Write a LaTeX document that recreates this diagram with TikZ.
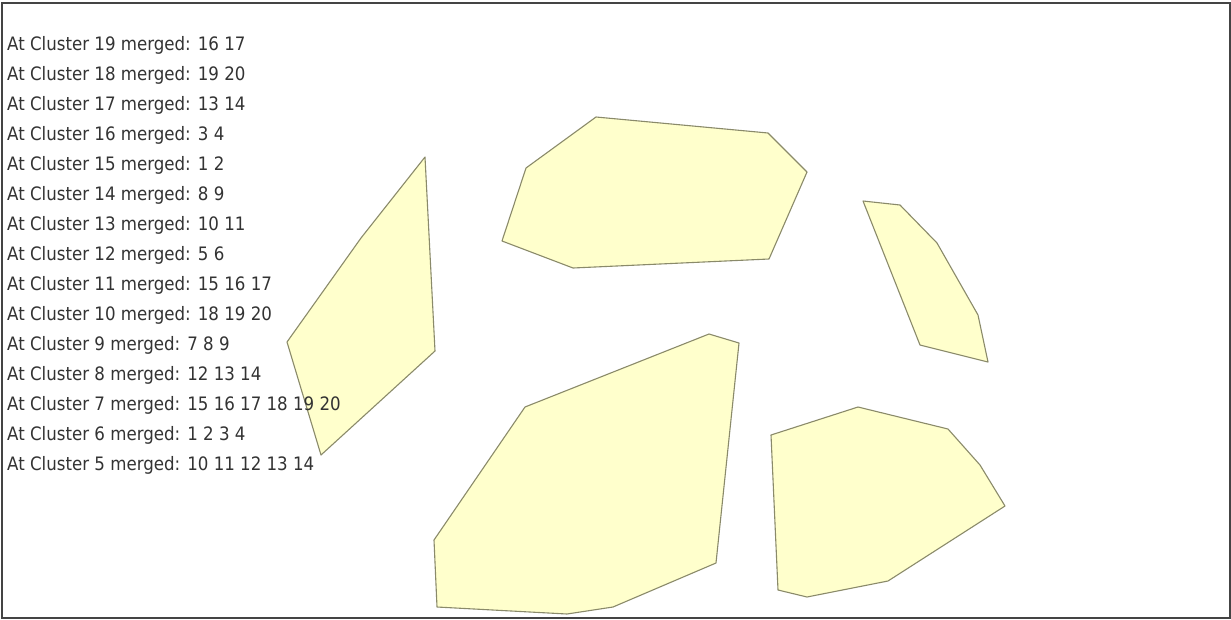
\documentclass[tikz,border=0pt]{standalone}
\usepackage{fontspec}
\setmainfont{DejaVu Sans Condensed}
\definecolor{polyfill}{HTML}{FFFFCC}
\definecolor{polyline}{HTML}{8A8A6A}
\definecolor{txt}{HTML}{333333}
\definecolor{frame}{HTML}{444444}
\begin{document}
\begin{tikzpicture}[x=1pt,y=-1pt,
  poly/.style={fill=polyfill,draw=polyline,line width=1.1pt,line join=round},
  lbl/.style={anchor=base west,inner sep=0pt,text=txt,font=\fontsize{18.5}{20}\selectfont}]
\useasboundingbox (0,0) rectangle (1231,619);
\fill[white] (0,0) rectangle (1231,619);
\draw[frame,line width=2pt] (1.5,3) rectangle (1229.5,617.5);
% polygons
\draw[poly] (425,157) -- (435,351) -- (321,455) -- (287,342) -- (361,238) -- cycle;
\draw[poly] (596,117) -- (768,133) -- (807,172) -- (769,259) -- (573,268) -- (502,241) -- (526,168) -- cycle;
\draw[poly] (863,201) -- (900,205) -- (937,243) -- (978,315) -- (988,362) -- (920,345) -- cycle;
\draw[poly] (709,334) -- (739,343) -- (716,563) -- (613,607) -- (567,614) -- (437,607) -- (434,540) -- (525,407) -- cycle;
\draw[poly] (858,407) -- (948,429) -- (980,465) -- (1005,506) -- (888,581) -- (807,597) -- (778,590) -- (771,435) -- cycle;
% text
\node[lbl] (l19) at (7,50) {At Cluster 19 merged: 16 17};
\node[lbl] (l18) at (7,80) {At Cluster 18 merged: 19 20};
\node[lbl] (l17) at (7,110) {At Cluster 17 merged: 13 14};
\node[lbl] (l16) at (7,140) {At Cluster 16 merged: 3 4};
\node[lbl] (l15) at (7,170) {At Cluster 15 merged: 1 2};
\node[lbl] (l14) at (7,200) {At Cluster 14 merged: 8 9};
\node[lbl] (l13) at (7,230) {At Cluster 13 merged: 10 11};
\node[lbl] (l12) at (7,260) {At Cluster 12 merged: 5 6};
\node[lbl] (l11) at (7,290) {At Cluster 11 merged: 15 16 17};
\node[lbl] (l10) at (7,320) {At Cluster 10 merged: 18 19 20};
\node[lbl] (l9) at (7,350) {At Cluster 9 merged: 7 8 9};
\node[lbl] (l8) at (7,380) {At Cluster 8 merged: 12 13 14};
\node[lbl] (l7) at (7,410) {At Cluster 7 merged: 15 16 17 18 19 20};
\node[lbl] (l6) at (7,440) {At Cluster 6 merged: 1 2 3 4};
\node[lbl] (l5) at (7,470) {At Cluster 5 merged: 10 11 12 13 14};
\end{tikzpicture}
\end{document}
